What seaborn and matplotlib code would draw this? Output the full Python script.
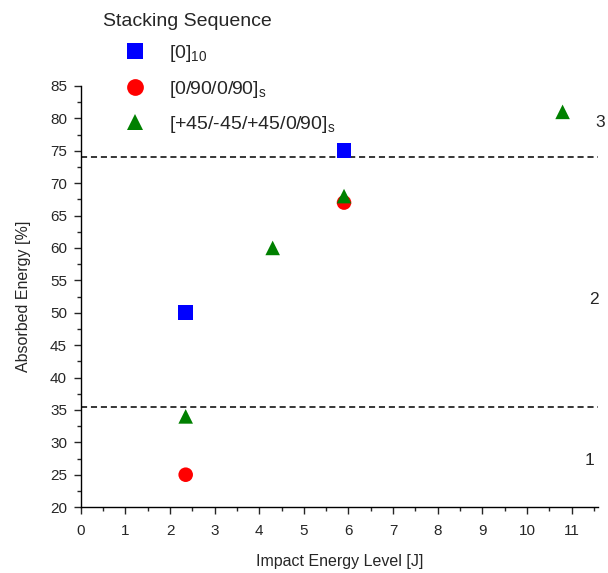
import pandas as pd
import seaborn as sns
import matplotlib.pyplot as plt
from matplotlib.ticker import MultipleLocator

sns.set_style("white")
plt.rcParams['font.family'] = ['Liberation Sans', 'DejaVu Sans']
plt.rcParams['mathtext.default'] = 'regular'

# data
sequences = ["[0]$_{10}$", "[0/90/0/90]$_s$", "[+45/-45/+45/0/90]$_s$"]
x_square = [2.35, 5.9]
y_square = [50, 75]
x_circle = [2.35, 5.9]
y_circle = [25, 67]
x_triangle = [2.35, 4.3, 5.9, 10.8]
y_triangle = [34, 60, 68, 81]
thresholds = [74, 35.5]
region_labels = ["3", "2", "1"]
region_y = [79.3, 52, 27.2]
region_x = [11.65, 11.5, 11.4]

df = pd.concat([
    pd.DataFrame({"energy": x_square, "absorbed": y_square, "seq": sequences[0]}),
    pd.DataFrame({"energy": x_circle, "absorbed": y_circle, "seq": sequences[1]}),
    pd.DataFrame({"energy": x_triangle, "absorbed": y_triangle, "seq": sequences[2]}),
])

colors = {sequences[0]: "#0000ff", sequences[1]: "#ff0000", sequences[2]: "#008000"}
markers = {sequences[0]: "s", sequences[1]: "o", sequences[2]: "^"}

fig = plt.figure(figsize=(6.08, 5.73), dpi=100)
ax = fig.add_axes([0.133, 0.115, 0.851, 0.735])

sns.scatterplot(data=df, x="energy", y="absorbed", hue="seq", style="seq",
                palette=colors, markers=markers, s=110, linewidth=0,
                ax=ax, clip_on=False, zorder=3)

for t in thresholds:
    ax.axhline(t, color="black", lw=1.1, ls=(0, (4, 2.5)), zorder=2)

for lab, xx, yy in zip(region_labels, region_x, region_y):
    ax.text(xx, yy, lab, fontsize=12.5, ha="center", va="center", clip_on=False)

ax.set_xlim(0, 11.6)
ax.set_ylim(20, 85)
ax.xaxis.set_major_locator(MultipleLocator(1))
ax.xaxis.set_minor_locator(MultipleLocator(0.5))
ax.yaxis.set_major_locator(MultipleLocator(5))
ax.yaxis.set_minor_locator(MultipleLocator(2.5))
ax.tick_params(which="major", direction="out", length=5, width=1, labelsize=11,
               bottom=True, left=True, pad=5)
ax.tick_params(axis="x", which="major", pad=7)
ax.tick_params(which="minor", direction="out", length=3, width=1,
               bottom=True, left=True)
sns.despine(ax=ax)
for sp in ["left", "bottom"]:
    ax.spines[sp].set_color("black")
    ax.spines[sp].set_linewidth(1)

ax.set_xlabel("Impact Energy Level [J]", fontsize=11.5, labelpad=12)
ax.set_ylabel("Absorbed Energy [%]", fontsize=11.5, labelpad=14)

sns.move_legend(ax, "upper left", bbox_to_anchor=(0.19, 0.925),
                bbox_transform=fig.transFigure, title=None, frameon=False,
                fontsize=14, labelspacing=0.75, handletextpad=0.75,
                markerscale=1.15, borderpad=0, borderaxespad=0)
fig.text(0.17, 0.963, "Stacking Sequence", fontsize=14, ha="left", va="center")

fig.savefig("out.png", dpi=100)
